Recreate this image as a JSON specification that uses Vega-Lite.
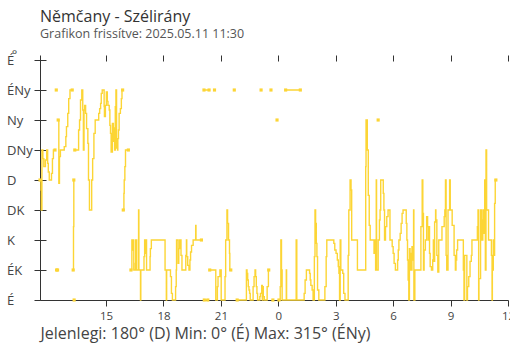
{
  "$schema": "https://vega.github.io/schema/vega-lite/v6.json",
  "width": 468,
  "height": 245,
  "autosize": {"type": "none"},
  "padding": {"left": 40, "top": 55, "right": 2, "bottom": 50},
  "background": "white",
  "config": {"view": {"stroke": null}, "font": "Open Sans"},
  "title": {
    "text": "Němčany - Szélirány",
    "subtitle": "Grafikon frissítve: 2025.05.11 11:30",
    "anchor": "start", "frame": "group", "offset": 8,
    "font": "Open Sans", "fontSize": 16, "fontWeight": "normal", "color": "#333",
    "subtitleFont": "Open Sans", "subtitleFontSize": 12.5, "subtitleColor": "#555", "subtitlePadding": 3
  },
  "data": {"name": "wind", "values": [
    {"t":"2025-05-10T11:33","v":180,"g":1},{"t":"2025-05-10T11:36","v":165,"g":1},{"t":"2025-05-10T11:37","v":135,"g":1},{"t":"2025-05-10T11:39","v":225,"g":1},{"t":"2025-05-10T11:42","v":212,"g":1},{"t":"2025-05-10T11:45","v":200,"g":1},{"t":"2025-05-10T11:50","v":210,"g":1},{"t":"2025-05-10T11:54","v":225,"g":1},{"t":"2025-05-10T11:57","v":205,"g":1},{"t":"2025-05-10T11:59","v":192,"g":1},{"t":"2025-05-10T12:02","v":180,"g":1},{"t":"2025-05-10T12:09","v":190,"g":1},{"t":"2025-05-10T12:12","v":212,"g":1},{"t":"2025-05-10T12:15","v":225,"g":1},{"t":"2025-05-10T12:20","v":225,"g":1},{"t":"2025-05-10T12:21","v":null,"g":1},
    {"t":"2025-05-10T12:25","v":45,"g":1},{"t":"2025-05-10T12:28","v":45,"g":1},{"t":"2025-05-10T12:29","v":null,"g":1},
    {"t":"2025-05-10T12:30","v":270,"g":1},{"t":"2025-05-10T12:32","v":175,"g":1},{"t":"2025-05-10T12:34","v":215,"g":1},{"t":"2025-05-10T12:37","v":225,"g":1},{"t":"2025-05-10T12:49","v":230,"g":1},{"t":"2025-05-10T12:54","v":245,"g":1},{"t":"2025-05-10T12:56","v":260,"g":1},{"t":"2025-05-10T13:00","v":280,"g":1},{"t":"2025-05-10T13:03","v":302,"g":1},{"t":"2025-05-10T13:07","v":315,"g":1},{"t":"2025-05-10T13:14","v":315,"g":1},{"t":"2025-05-10T13:15","v":null,"g":1},
    {"t":"2025-05-10T13:17","v":45,"g":1},{"t":"2025-05-10T13:18","v":110,"g":1},{"t":"2025-05-10T13:19","v":180,"g":1},{"t":"2025-05-10T13:20","v":null,"g":1},
    {"t":"2025-05-10T13:22","v":225,"g":1},{"t":"2025-05-10T13:32","v":225,"g":1},{"t":"2025-05-10T13:34","v":255,"g":1},{"t":"2025-05-10T13:37","v":270,"g":1},{"t":"2025-05-10T13:40","v":300,"g":1},{"t":"2025-05-10T13:44","v":315,"g":1},{"t":"2025-05-10T13:47","v":285,"g":1},{"t":"2025-05-10T13:49","v":225,"g":1},{"t":"2025-05-10T13:51","v":285,"g":1},{"t":"2025-05-10T13:53","v":292,"g":1},{"t":"2025-05-10T13:56","v":280,"g":1},{"t":"2025-05-10T13:59","v":257,"g":1},{"t":"2025-05-10T14:03","v":235,"g":1},{"t":"2025-05-10T14:05","v":180,"g":1},{"t":"2025-05-10T14:08","v":135,"g":1},{"t":"2025-05-10T14:15","v":180,"g":1},{"t":"2025-05-10T14:18","v":212,"g":1},{"t":"2025-05-10T14:22","v":250,"g":1},{"t":"2025-05-10T14:26","v":270,"g":1},{"t":"2025-05-10T14:37","v":280,"g":1},{"t":"2025-05-10T14:40","v":287,"g":1},{"t":"2025-05-10T14:43","v":295,"g":1},{"t":"2025-05-10T14:45","v":310,"g":1},{"t":"2025-05-10T14:48","v":315,"g":1},{"t":"2025-05-10T14:54","v":290,"g":1},{"t":"2025-05-10T14:55","v":275,"g":1},{"t":"2025-05-10T14:58","v":292,"g":1},{"t":"2025-05-10T15:01","v":312,"g":1},{"t":"2025-05-10T15:04","v":298,"g":1},{"t":"2025-05-10T15:06","v":292,"g":1},{"t":"2025-05-10T15:10","v":285,"g":1},{"t":"2025-05-10T15:12","v":262,"g":1},{"t":"2025-05-10T15:14","v":250,"g":1},{"t":"2025-05-10T15:16","v":222,"g":1},{"t":"2025-05-10T15:20","v":265,"g":1},{"t":"2025-05-10T15:23","v":238,"g":1},{"t":"2025-05-10T15:25","v":258,"g":1},{"t":"2025-05-10T15:27","v":225,"g":1},{"t":"2025-05-10T15:29","v":290,"g":1},{"t":"2025-05-10T15:31","v":315,"g":1},{"t":"2025-05-10T15:33","v":228,"g":1},{"t":"2025-05-10T15:36","v":225,"g":1},{"t":"2025-05-10T15:37","v":242,"g":1},{"t":"2025-05-10T15:39","v":255,"g":1},{"t":"2025-05-10T15:41","v":280,"g":1},{"t":"2025-05-10T15:45","v":287,"g":1},{"t":"2025-05-10T15:48","v":302,"g":1},{"t":"2025-05-10T15:50","v":315,"g":1},{"t":"2025-05-10T15:52","v":315,"g":1},{"t":"2025-05-10T15:53","v":null,"g":1},
    {"t":"2025-05-10T15:54","v":135,"g":1},{"t":"2025-05-10T15:56","v":160,"g":1},{"t":"2025-05-10T15:57","v":180,"g":1},{"t":"2025-05-10T15:59","v":200,"g":1},{"t":"2025-05-10T16:01","v":225,"g":1},{"t":"2025-05-10T16:10","v":225,"g":1},{"t":"2025-05-10T16:11","v":null,"g":1},
    {"t":"2025-05-10T16:18","v":45,"g":1},{"t":"2025-05-10T16:21","v":90,"g":1},{"t":"2025-05-10T16:23","v":75,"g":1},{"t":"2025-05-10T16:25","v":90,"g":1},{"t":"2025-05-10T16:27","v":45,"g":1},{"t":"2025-05-10T16:32","v":55,"g":1},{"t":"2025-05-10T16:33","v":90,"g":1},{"t":"2025-05-10T16:36","v":45,"g":1},{"t":"2025-05-10T16:42","v":135,"g":1},{"t":"2025-05-10T16:43","v":45,"g":1},{"t":"2025-05-10T16:48","v":0,"g":1},{"t":"2025-05-10T16:49","v":45,"g":1},{"t":"2025-05-10T16:59","v":65,"g":1},{"t":"2025-05-10T17:01","v":90,"g":1},{"t":"2025-05-10T17:03","v":70,"g":1},{"t":"2025-05-10T17:05","v":90,"g":1},{"t":"2025-05-10T17:07","v":45,"g":1},{"t":"2025-05-10T17:18","v":65,"g":1},{"t":"2025-05-10T17:19","v":77,"g":1},{"t":"2025-05-10T17:22","v":90,"g":1},{"t":"2025-05-10T18:05","v":45,"g":1},{"t":"2025-05-10T18:09","v":0,"g":1},{"t":"2025-05-10T18:10","v":45,"g":1},{"t":"2025-05-10T18:22","v":35,"g":1},{"t":"2025-05-10T18:25","v":10,"g":1},{"t":"2025-05-10T18:28","v":0,"g":1},{"t":"2025-05-10T18:38","v":20,"g":1},{"t":"2025-05-10T18:40","v":45,"g":1},{"t":"2025-05-10T18:41","v":90,"g":1},{"t":"2025-05-10T18:46","v":55,"g":1},{"t":"2025-05-10T18:48","v":77,"g":1},{"t":"2025-05-10T18:51","v":90,"g":1},{"t":"2025-05-10T18:55","v":67,"g":1},{"t":"2025-05-10T18:58","v":45,"g":1},{"t":"2025-05-10T19:10","v":67,"g":1},{"t":"2025-05-10T19:12","v":90,"g":1},{"t":"2025-05-10T19:13","v":65,"g":1},{"t":"2025-05-10T19:16","v":52,"g":1},{"t":"2025-05-10T19:20","v":45,"g":1},{"t":"2025-05-10T19:23","v":60,"g":1},{"t":"2025-05-10T19:25","v":72,"g":1},{"t":"2025-05-10T19:28","v":82,"g":1},{"t":"2025-05-10T19:33","v":90,"g":1},{"t":"2025-05-10T19:41","v":112,"g":1},{"t":"2025-05-10T19:42","v":90,"g":1},{"t":"2025-05-10T19:59","v":90,"g":1},{"t":"2025-05-10T20:00","v":null,"g":1},
    {"t":"2025-05-10T20:08","v":0,"g":1},{"t":"2025-05-10T20:19","v":0,"g":1},{"t":"2025-05-10T20:20","v":null,"g":1},
    {"t":"2025-05-10T20:25","v":45,"g":1},{"t":"2025-05-10T20:44","v":0,"g":1},{"t":"2025-05-10T20:49","v":20,"g":1},{"t":"2025-05-10T20:51","v":35,"g":1},{"t":"2025-05-10T20:57","v":45,"g":1},{"t":"2025-05-10T21:01","v":0,"g":1},{"t":"2025-05-10T21:13","v":35,"g":1},{"t":"2025-05-10T21:15","v":90,"g":1},{"t":"2025-05-10T21:19","v":135,"g":1},{"t":"2025-05-10T21:21","v":115,"g":1},{"t":"2025-05-10T21:24","v":90,"g":1},{"t":"2025-05-10T21:27","v":70,"g":1},{"t":"2025-05-10T21:28","v":45,"g":1},{"t":"2025-05-10T21:31","v":45,"g":1},{"t":"2025-05-10T21:32","v":null,"g":1},
    {"t":"2025-05-10T21:51","v":0,"g":1},{"t":"2025-05-10T22:18","v":0,"g":1},{"t":"2025-05-10T22:20","v":45,"g":1},{"t":"2025-05-10T22:22","v":40,"g":1},{"t":"2025-05-10T22:24","v":30,"g":1},{"t":"2025-05-10T22:26","v":20,"g":1},{"t":"2025-05-10T22:28","v":15,"g":1},{"t":"2025-05-10T22:30","v":10,"g":1},{"t":"2025-05-10T22:32","v":0,"g":1},{"t":"2025-05-10T22:41","v":20,"g":1},{"t":"2025-05-10T22:44","v":35,"g":1},{"t":"2025-05-10T22:47","v":45,"g":1},{"t":"2025-05-10T22:49","v":35,"g":1},{"t":"2025-05-10T22:51","v":20,"g":1},{"t":"2025-05-10T22:53","v":10,"g":1},{"t":"2025-05-10T22:55","v":0,"g":1},{"t":"2025-05-10T23:02","v":5,"g":1},{"t":"2025-05-10T23:04","v":10,"g":1},{"t":"2025-05-10T23:08","v":22,"g":1},{"t":"2025-05-10T23:10","v":0,"g":1},{"t":"2025-05-10T23:11","v":20,"g":1},{"t":"2025-05-10T23:13","v":5,"g":1},{"t":"2025-05-10T23:16","v":0,"g":1},{"t":"2025-05-10T23:25","v":20,"g":1},{"t":"2025-05-10T23:29","v":45,"g":1},{"t":"2025-05-10T23:30","v":45,"g":1},{"t":"2025-05-10T23:31","v":null,"g":1},
    {"t":"2025-05-10T23:43","v":0,"g":1},{"t":"2025-05-10T23:44","v":null,"g":1},
    {"t":"2025-05-10T23:56","v":270,"g":1},{"t":"2025-05-10T23:57","v":null,"g":1},
    {"t":"2025-05-11T00:02","v":0,"g":1},{"t":"2025-05-11T00:06","v":20,"g":1},{"t":"2025-05-11T00:08","v":90,"g":1},{"t":"2025-05-11T00:10","v":45,"g":1},{"t":"2025-05-11T00:12","v":0,"g":1},{"t":"2025-05-11T00:25","v":45,"g":1},{"t":"2025-05-11T00:26","v":0,"g":1},{"t":"2025-05-11T00:56","v":90,"g":1},{"t":"2025-05-11T00:58","v":0,"g":1},{"t":"2025-05-11T01:21","v":10,"g":1},{"t":"2025-05-11T01:24","v":30,"g":1},{"t":"2025-05-11T01:28","v":45,"g":1},{"t":"2025-05-11T01:38","v":40,"g":1},{"t":"2025-05-11T01:40","v":30,"g":1},{"t":"2025-05-11T01:42","v":22,"g":1},{"t":"2025-05-11T01:46","v":15,"g":1},{"t":"2025-05-11T01:49","v":0,"g":1},{"t":"2025-05-11T01:53","v":65,"g":1},{"t":"2025-05-11T01:55","v":135,"g":1},{"t":"2025-05-11T01:57","v":115,"g":1},{"t":"2025-05-11T01:59","v":85,"g":1},{"t":"2025-05-11T02:01","v":65,"g":1},{"t":"2025-05-11T02:03","v":15,"g":1},{"t":"2025-05-11T02:07","v":0,"g":1},{"t":"2025-05-11T02:26","v":20,"g":1},{"t":"2025-05-11T02:30","v":65,"g":1},{"t":"2025-05-11T02:32","v":90,"g":1},{"t":"2025-05-11T02:54","v":85,"g":1},{"t":"2025-05-11T02:57","v":75,"g":1},{"t":"2025-05-11T03:01","v":70,"g":1},{"t":"2025-05-11T03:05","v":60,"g":1},{"t":"2025-05-11T03:08","v":50,"g":1},{"t":"2025-05-11T03:10","v":40,"g":1},{"t":"2025-05-11T03:12","v":0,"g":1},{"t":"2025-05-11T03:14","v":90,"g":1},{"t":"2025-05-11T03:16","v":45,"g":1},{"t":"2025-05-11T03:22","v":40,"g":1},{"t":"2025-05-11T03:25","v":10,"g":1},{"t":"2025-05-11T03:29","v":0,"g":1},{"t":"2025-05-11T03:39","v":67,"g":1},{"t":"2025-05-11T03:41","v":135,"g":1},{"t":"2025-05-11T03:45","v":180,"g":1},{"t":"2025-05-11T03:48","v":165,"g":1},{"t":"2025-05-11T03:50","v":90,"g":1},{"t":"2025-05-11T04:08","v":45,"g":1},{"t":"2025-05-11T04:34","v":200,"g":1},{"t":"2025-05-11T04:35","v":270,"g":1},{"t":"2025-05-11T04:39","v":225,"g":1},{"t":"2025-05-11T04:42","v":157,"g":1},{"t":"2025-05-11T04:45","v":112,"g":1},{"t":"2025-05-11T04:48","v":90,"g":1},{"t":"2025-05-11T05:00","v":70,"g":1},{"t":"2025-05-11T05:03","v":90,"g":1},{"t":"2025-05-11T05:05","v":45,"g":1},{"t":"2025-05-11T05:07","v":180,"g":1},{"t":"2025-05-11T05:08","v":45,"g":1},{"t":"2025-05-11T05:13","v":90,"g":1},{"t":"2025-05-11T05:17","v":120,"g":1},{"t":"2025-05-11T05:19","v":135,"g":1},{"t":"2025-05-11T05:21","v":180,"g":1},{"t":"2025-05-11T05:29","v":160,"g":1},{"t":"2025-05-11T05:31","v":135,"g":1},{"t":"2025-05-11T05:33","v":90,"g":1},{"t":"2025-05-11T05:36","v":110,"g":1},{"t":"2025-05-11T05:40","v":125,"g":1},{"t":"2025-05-11T05:44","v":135,"g":1},{"t":"2025-05-11T05:50","v":90,"g":1},{"t":"2025-05-11T05:57","v":80,"g":1},{"t":"2025-05-11T06:00","v":70,"g":1},{"t":"2025-05-11T06:03","v":55,"g":1},{"t":"2025-05-11T06:07","v":45,"g":1},{"t":"2025-05-11T06:14","v":60,"g":1},{"t":"2025-05-11T06:16","v":75,"g":1},{"t":"2025-05-11T06:18","v":90,"g":1},{"t":"2025-05-11T06:22","v":100,"g":1},{"t":"2025-05-11T06:25","v":115,"g":1},{"t":"2025-05-11T06:28","v":130,"g":1},{"t":"2025-05-11T06:31","v":135,"g":1},{"t":"2025-05-11T06:41","v":115,"g":1},{"t":"2025-05-11T06:43","v":90,"g":1},{"t":"2025-05-11T06:45","v":60,"g":1},{"t":"2025-05-11T06:47","v":30,"g":1},{"t":"2025-05-11T06:49","v":0,"g":1},{"t":"2025-05-11T06:51","v":77,"g":1},{"t":"2025-05-11T06:53","v":45,"g":1},{"t":"2025-05-11T06:55","v":70,"g":1},{"t":"2025-05-11T06:58","v":45,"g":1},{"t":"2025-05-11T06:59","v":80,"g":1},{"t":"2025-05-11T07:02","v":60,"g":1},{"t":"2025-05-11T07:04","v":135,"g":1},{"t":"2025-05-11T07:05","v":0,"g":1},{"t":"2025-05-11T07:08","v":45,"g":1},{"t":"2025-05-11T07:27","v":110,"g":1},{"t":"2025-05-11T07:31","v":180,"g":1},{"t":"2025-05-11T07:33","v":130,"g":1},{"t":"2025-05-11T07:35","v":45,"g":1},{"t":"2025-05-11T07:37","v":75,"g":1},{"t":"2025-05-11T07:41","v":90,"g":1},{"t":"2025-05-11T07:45","v":125,"g":1},{"t":"2025-05-11T07:48","v":110,"g":1},{"t":"2025-05-11T07:50","v":90,"g":1},{"t":"2025-05-11T07:52","v":110,"g":1},{"t":"2025-05-11T07:54","v":70,"g":1},{"t":"2025-05-11T07:56","v":50,"g":1},{"t":"2025-05-11T08:00","v":45,"g":1},{"t":"2025-05-11T08:04","v":60,"g":1},{"t":"2025-05-11T08:06","v":90,"g":1},{"t":"2025-05-11T08:08","v":58,"g":1},{"t":"2025-05-11T08:10","v":117,"g":1},{"t":"2025-05-11T08:13","v":135,"g":1},{"t":"2025-05-11T08:14","v":120,"g":1},{"t":"2025-05-11T08:17","v":67,"g":1},{"t":"2025-05-11T08:20","v":42,"g":1},{"t":"2025-05-11T08:23","v":90,"g":1},{"t":"2025-05-11T08:33","v":110,"g":1},{"t":"2025-05-11T08:40","v":125,"g":1},{"t":"2025-05-11T08:42","v":135,"g":1},{"t":"2025-05-11T08:44","v":180,"g":1},{"t":"2025-05-11T08:46","v":67,"g":1},{"t":"2025-05-11T08:48","v":45,"g":1},{"t":"2025-05-11T08:52","v":135,"g":1},{"t":"2025-05-11T08:57","v":180,"g":1},{"t":"2025-05-11T08:59","v":135,"g":1},{"t":"2025-05-11T09:05","v":112,"g":1},{"t":"2025-05-11T09:11","v":67,"g":1},{"t":"2025-05-11T09:15","v":45,"g":1},{"t":"2025-05-11T09:17","v":60,"g":1},{"t":"2025-05-11T09:19","v":75,"g":1},{"t":"2025-05-11T09:22","v":90,"g":1},{"t":"2025-05-11T09:38","v":90,"g":1},{"t":"2025-05-11T09:40","v":45,"g":1},{"t":"2025-05-11T09:42","v":0,"g":1},{"t":"2025-05-11T09:44","v":67,"g":1},{"t":"2025-05-11T09:51","v":0,"g":1},{"t":"2025-05-11T09:53","v":20,"g":1},{"t":"2025-05-11T09:57","v":35,"g":1},{"t":"2025-05-11T10:01","v":58,"g":1},{"t":"2025-05-11T10:05","v":67,"g":1},{"t":"2025-05-11T10:07","v":90,"g":1},{"t":"2025-05-11T10:24","v":110,"g":1},{"t":"2025-05-11T10:26","v":135,"g":1},{"t":"2025-05-11T10:28","v":0,"g":1},{"t":"2025-05-11T10:29","v":32,"g":1},{"t":"2025-05-11T10:34","v":135,"g":1},{"t":"2025-05-11T10:38","v":90,"g":1},{"t":"2025-05-11T10:41","v":120,"g":1},{"t":"2025-05-11T10:43","v":135,"g":1},{"t":"2025-05-11T10:45","v":100,"g":1},{"t":"2025-05-11T10:47","v":180,"g":1},{"t":"2025-05-11T10:49","v":45,"g":1},{"t":"2025-05-11T10:51","v":225,"g":1},{"t":"2025-05-11T10:53","v":135,"g":1},{"t":"2025-05-11T10:57","v":135,"g":1},{"t":"2025-05-11T10:59","v":90,"g":1},{"t":"2025-05-11T11:08","v":67,"g":1},{"t":"2025-05-11T11:10","v":0,"g":1},{"t":"2025-05-11T11:11","v":45,"g":1},{"t":"2025-05-11T11:14","v":90,"g":1},{"t":"2025-05-11T11:16","v":67,"g":1},{"t":"2025-05-11T11:18","v":145,"g":1},{"t":"2025-05-11T11:20","v":180,"g":1},{"t":"2025-05-11T11:22","v":180,"g":1},
    {"t":"2025-05-10T12:24","v":315,"g":2},{"t":"2025-05-10T12:25","v":null,"g":2},
    {"t":"2025-05-10T13:20","v":0,"g":2},{"t":"2025-05-10T13:21","v":null,"g":2},
    {"t":"2025-05-10T20:07","v":315,"g":2},{"t":"2025-05-10T20:23","v":315,"g":2},{"t":"2025-05-10T20:24","v":null,"g":2},
    {"t":"2025-05-10T20:40","v":315,"g":2},{"t":"2025-05-10T20:41","v":null,"g":2},
    {"t":"2025-05-10T21:42","v":315,"g":2},{"t":"2025-05-10T21:43","v":null,"g":2},
    {"t":"2025-05-10T23:06","v":315,"g":2},{"t":"2025-05-10T23:07","v":null,"g":2},
    {"t":"2025-05-10T23:37","v":315,"g":2},{"t":"2025-05-10T23:38","v":null,"g":2},
    {"t":"2025-05-11T00:23","v":315,"g":2},{"t":"2025-05-11T01:09","v":315,"g":2},{"t":"2025-05-11T01:10","v":null,"g":2},
    {"t":"2025-05-11T05:13","v":270,"g":2},{"t":"2025-05-11T05:14","v":null,"g":2}
  ]},
  "encoding": {
    "x": {
      "field": "t", "type": "temporal",
      "scale": {"domain": [{"year": 2025, "month": 5, "date": 10, "hours": 11, "minutes": 33}, {"year": 2025, "month": 5, "date": 11, "hours": 12}]},
      "title": "Jelenlegi: 180° (D)  Min: 0° (É)  Max: 315° (ÉNy)",
      "axis": {
        "values": [
          {"year": 2025, "month": 5, "date": 10, "hours": 15},
          {"year": 2025, "month": 5, "date": 10, "hours": 18},
          {"year": 2025, "month": 5, "date": 10, "hours": 21},
          {"year": 2025, "month": 5, "date": 11, "hours": 0},
          {"year": 2025, "month": 5, "date": 11, "hours": 3},
          {"year": 2025, "month": 5, "date": 11, "hours": 6},
          {"year": 2025, "month": 5, "date": 11, "hours": 9},
          {"year": 2025, "month": 5, "date": 11, "hours": 12}
        ],
        "format": "%-H", "labelFlush": false, "labelOverlap": false,
        "domainColor": "#333", "tickColor": "#333", "tickSize": 6,
        "grid": true, "gridColor": "#333", "gridDash": [6, 1000], "gridOpacity": 1,
        "labelFont": "Open Sans", "labelFontSize": 11.5, "labelColor": "#444", "labelPadding": 4,
        "titleFont": "Open Sans", "titleFontSize": 16, "titleFontWeight": "normal", "titleColor": "#444",
        "titleX": 0, "titleY": 38, "titleAlign": "left", "titleAnchor": "start", "titleBaseline": "alphabetic"
      }
    },
    "y": {
      "field": "v", "type": "quantitative",
      "scale": {"domain": [0, 367.5], "nice": false},
      "title": "°",
      "axis": {
        "values": [0, 45, 90, 135, 180, 225, 270, 315, 360],
        "labelExpr": "['É','ÉK','K','DK','D','DNy','Ny','ÉNy','É'][round(datum.value/45)]",
        "domainColor": "#333", "tickColor": "#333", "tickSize": 6,
        "grid": true, "gridColor": "#333", "gridDash": [6, 1000], "gridOpacity": 1,
        "labelFont": "Open Sans", "labelFontSize": 13, "labelColor": "#444",
        "labelAlign": "left", "labelBaseline": "middle", "labelPadding": 27.5,
        "titleFont": "Open Sans", "titleFontSize": 13, "titleFontWeight": "normal", "titleColor": "#444",
        "titleAngle": 0, "titleX": -26, "titleY": 3, "titleAlign": "center", "titleBaseline": "alphabetic"
      }
    }
  },
  "layer": [
    {
      "data": {"values": [{}]},
      "mark": {"type": "rule", "color": "#3a8bce", "strokeWidth": 1},
      "encoding": {
        "x": {"datum": {"year": 2025, "month": 5, "date": 11, "hours": 0}, "type": "temporal"},
        "y": {"datum": 0}, "y2": {"datum": 360}
      }
    },
    {
      "data": {"values": [{}]},
      "mark": {"type": "rule", "color": "#333", "strokeWidth": 1},
      "encoding": {
        "x": {"datum": {"year": 2025, "month": 5, "date": 11, "hours": 5, "minutes": 13}, "type": "temporal"},
        "y": {"datum": 0}, "y2": {"datum": 360}
      }
    },
    {
      "mark": {"type": "line", "interpolate": "step-after", "strokeWidth": 1.4, "color": "#fcd535", "invalid": "break-paths-filter-domains"},
      "encoding": {"detail": {"field": "g"}}
    },
    {
      "transform": [
        {"window": [{"op": "lag", "field": "v", "as": "prev"}, {"op": "lead", "field": "v", "as": "next"}], "groupby": ["g"], "sort": [{"field": "t"}]},
        {"filter": "isValid(datum.v) && (!isValid(datum.prev) || !isValid(datum.next))"}
      ],
      "mark": {"type": "point", "shape": "square", "filled": true, "size": 10, "color": "#fcd535", "opacity": 1}
    },
    {
      "data": {"values": [{}]},
      "mark": {"type": "text", "text": "© Időkép", "font": "Open Sans", "fontSize": 13.5, "color": "#555", "align": "center", "baseline": "alphabetic"},
      "encoding": {
        "x": {"datum": {"year": 2025, "month": 5, "date": 11, "hours": 9, "minutes": 5}, "type": "temporal"},
        "y": {"datum": -54}
      }
    }
  ]
}
